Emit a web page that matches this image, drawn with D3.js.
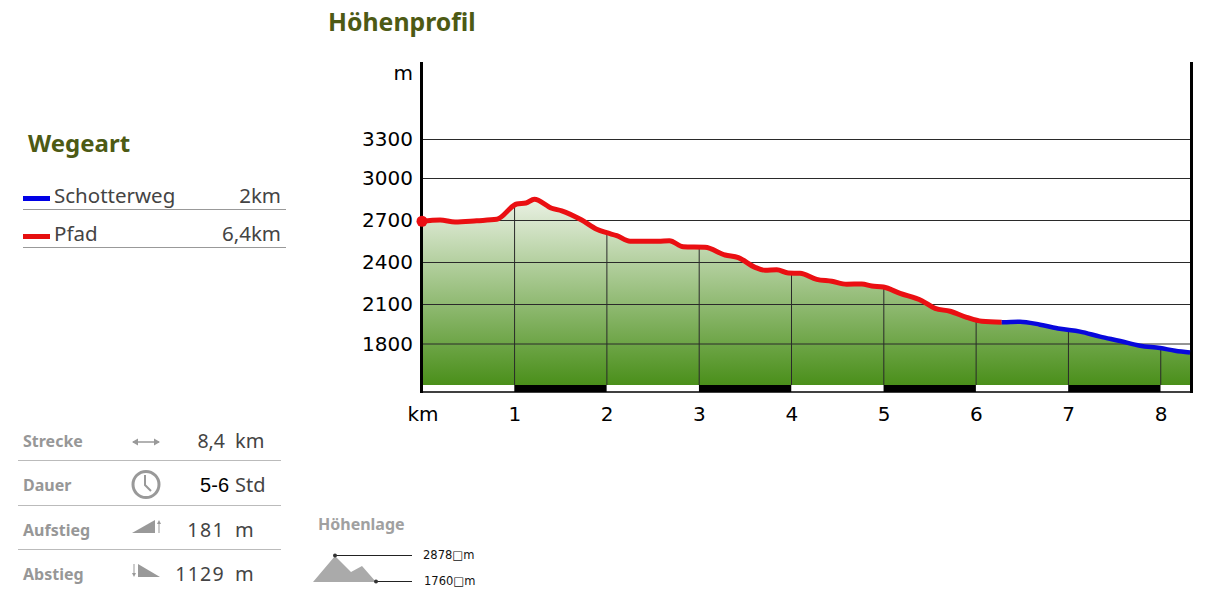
<!DOCTYPE html>
<html><head><meta charset="utf-8">
<script src="https://cdn.jsdelivr.net/npm/d3@7"></script>
<style>html,body{margin:0;padding:0;background:#fff}svg{display:block}text{font-family:"Noto Sans","Open Sans",sans-serif}</style>
</head><body><svg id="c" width="1206" height="602"></svg>
<script>
const pfadKm=[0,.195,.358,.593,.81,1.026,1.127,1.217,1.405,1.514,1.73,1.893,2,2.11,2.254,2.416,2.56,2.68,2.83,3.066,3.283,3.427,3.608,3.716,3.843,3.968,4.095,4.276,4.439,4.601,4.764,4.872,4.998,5.179,5.414,5.558,5.72,5.9,6.064,6.28];
const pfadM=[2691,2700,2686,2695,2705,2814,2821,2848,2784,2766,2700,2634,2609,2588,2548,2548,2548,2552,2509,2505,2450,2431,2362,2341,2345,2321,2319,2276,2262,2241,2243,2229,2221,2176,2124,2067,2045,1999,1969,1961];
const schotterKm=[6.28,6.479,6.696,6.912,7.129,7.346,7.563,7.779,7.996,8.159,8.32];
const schotterM=[1961,1966,1943,1912,1890,1852,1819,1784,1767,1748,1735];
const yTicks=[1800,2100,2400,2700,3000,3300];
const kmTicks=[1,2,3,4,5,6,7,8];
const wegNames=["Schotterweg","Pfad"],wegLengths=["2km","6,4km"],wegColors=["#0000e6","#e60f0f"];
const statNames=["Strecke","Dauer","Aufstieg","Abstieg"],statValues=["8,4","5-6","181","1129"],statUnits=["km","Std","m","m"];
const lageLabels=["2878\u25A1m","1760\u25A1m"];

const svg=d3.select("#c");
const x=d3.scaleLinear().domain([0,8]).range([422,1160.5]);
const y=d3.scaleLinear().domain([1500,1800,2100,2400,2700,3000,3300]).range([385,343.5,304,262,220,178,139]);
const endKm=schotterKm[schotterKm.length-1];
const all=pfadKm.map((k,i)=>[k,pfadM[i]]).concat(schotterKm.slice(1).map((k,i)=>[k,schotterM[i+1]]));
const grad=svg.append("defs").append("linearGradient").attr("id","g").attr("x1",0).attr("x2",0).attr("y1",0).attr("y2",1);
grad.append("stop").attr("offset","0%").attr("stop-color","#eaf1e4");
grad.append("stop").attr("offset","100%").attr("stop-color","#4a8f1a");
const curve=d3.curveMonotoneX;

// area
svg.append("path").datum(all).attr("fill","url(#g)")
 .attr("d",d3.area().curve(curve).x(d=>x(d[0])).y0(y(1500)).y1(d=>y(d[1])));
// horizontal grid
svg.append("g").selectAll("line").data(yTicks).join("line")
 .attr("x1",x(0)).attr("x2",x(endKm)).attr("y1",d=>y(d)+.5).attr("y2",d=>y(d)+.5)
 .attr("stroke","#2a2a2a").attr("stroke-width",1);
// vertical grid
const interp=d3.scaleLinear().domain(all.map(d=>d[0])).range(all.map(d=>d[1]));
svg.append("g").selectAll("line").data(kmTicks).join("line")
 .attr("x1",d=>x(d)+.25).attr("x2",d=>x(d)+.25).attr("y1",d=>y(interp(d))).attr("y2",y(1500))
 .attr("stroke","#2a2a2a").attr("stroke-width",1);
// km strip
svg.append("g").selectAll("rect").data([1,3,5,7]).join("rect")
 .attr("x",d=>x(d)).attr("width",d=>x(d+1)-x(d)).attr("y",385).attr("height",7).attr("fill","#000");
svg.append("line").attr("x1",x(0)).attr("x2",1190).attr("y1",392).attr("y2",392).attr("stroke","#000").attr("stroke-width",1.5);
// axes
svg.append("rect").attr("x",420).attr("y",62).attr("width",3).attr("height",331).attr("fill","#000");
svg.append("rect").attr("x",1190).attr("y",62).attr("width",3).attr("height",331).attr("fill","#000");
// profile lines
const ln=d3.line().curve(curve).x(d=>x(d[0])).y(d=>y(d[1]));
svg.append("path").datum(pfadKm.map((k,i)=>[k,pfadM[i]])).attr("d",ln).attr("fill","none").attr("stroke","#ea0f12").attr("stroke-width",5).attr("stroke-linejoin","round");
svg.append("path").datum(schotterKm.map((k,i)=>[k,schotterM[i]])).attr("d",ln).attr("fill","none").attr("stroke","#0808dc").attr("stroke-width",4.5).attr("stroke-linejoin","round");
svg.append("circle").attr("cx",x(0)).attr("cy",y(pfadM[0])).attr("r",5.5).attr("fill","#ea0f12");
// tick labels
const tick=(s)=>s.attr("font-size",20).attr("fill","#000").style("font-family","'DejaVu Sans'");
svg.append("g").selectAll("text").data(yTicks).join("text").attr("x",413).attr("y",d=>y(d)+7).attr("text-anchor","end").text(d=>d).call(tick);
svg.append("text").attr("x",413).attr("y",80).attr("text-anchor","end").text("m").call(tick);
svg.append("g").selectAll("text").data(kmTicks).join("text").attr("x",d=>x(d)+.5).attr("y",421).attr("text-anchor","middle").text(d=>d).call(tick);
svg.append("text").attr("x",423).attr("y",421).attr("text-anchor","middle").text("km").call(tick);
// titles
const olive="#4d5a14";
svg.append("text").attr("x",328).attr("y",31).attr("font-size",24.8).attr("font-weight",700).attr("fill",olive).text("Höhenprofil");
svg.append("text").attr("x",28).attr("y",152).attr("font-size",24).attr("font-weight",700).attr("fill",olive).text("Wegeart");
// legend
const leg=svg.append("g").selectAll("g").data(wegNames).join("g").attr("transform",(d,i)=>`translate(0,${i*38})`);
leg.append("rect").attr("x",23).attr("y",196).attr("width",27).attr("height",5).attr("fill",(d,i)=>wegColors[i]);
leg.append("text").attr("x",54).attr("y",203).attr("font-size",20.5).attr("fill","#444").text(d=>d);
leg.append("text").attr("x",281).attr("y",203).attr("text-anchor","end").attr("font-size",20.5).attr("fill","#444").text((d,i)=>wegLengths[i]);
leg.append("line").attr("x1",23).attr("x2",286).attr("y1",209.5).attr("y2",209.5).attr("stroke","#999");
// stats
const rowY=[448,492,537,581];
const valEnd=[225,229,225,225],spacing=[0,0,1.4,1.3];
const st=svg.append("g").selectAll("g").data(statNames).join("g");
st.append("text").attr("x",23).attr("y",(d,i)=>rowY[i]-1).attr("font-size",16).attr("font-weight",700).attr("fill","#979797").text(d=>d);
st.append("text").attr("x",(d,i)=>valEnd[i]).attr("y",(d,i)=>rowY[i]-.5).attr("text-anchor","end").attr("font-size",(d,i)=>i==1?20:19.5).attr("fill",(d,i)=>i==1?"#000":"#444")
  .attr("letter-spacing",(d,i)=>spacing[i])
  .style("font-family",(d,i)=>i==1?"'Liberation Sans'":null).text((d,i)=>statValues[i]);
st.append("text").attr("x",235).attr("y",(d,i)=>rowY[i]-.5).attr("font-size",20).attr("fill","#444").text((d,i)=>statUnits[i]);
svg.append("g").selectAll("line").data([460.5,505.5,549.5]).join("line").attr("x1",18).attr("x2",281).attr("y1",d=>d).attr("y2",d=>d).attr("stroke","#bbb");
// icons
const ic=svg.append("g").attr("fill","#999").attr("stroke","none");
ic.append("path").attr("d","M133 442h26").attr("stroke","#999").attr("stroke-width",1.5);
ic.append("path").attr("d","M132 442l6-3.5v7zM160 442l-6-3.5v7z");
ic.append("circle").attr("cx",146).attr("cy",484.5).attr("r",13).attr("fill","none").attr("stroke","#999").attr("stroke-width",3);
ic.append("path").attr("d","M145 475v10l6 6").attr("fill","none").attr("stroke","#999").attr("stroke-width",2);
ic.append("path").attr("d","M132 533l23-13v13z");
ic.append("path").attr("d","M159 533v-10").attr("stroke","#999").attr("stroke-width",1);
ic.append("path").attr("d","M157 524l2-4 2 4z");
ic.append("path").attr("d","M138 564l22 13h-22z");
ic.append("path").attr("d","M134 564v10").attr("stroke","#999").attr("stroke-width",1);
ic.append("path").attr("d","M132 573l2 4 2-4z");
// Höhenlage
svg.append("text").attr("x",318).attr("y",529.5).attr("font-size",16).attr("font-weight",700).attr("fill","#a0a0a0").text("Höhenlage");
svg.append("path").attr("d","M313 582L335 556L351 572L362 566L376 582Z").attr("fill","#aaa");
svg.append("g").selectAll("line").data([555.5,581.5]).join("line").attr("x1",(d,i)=>i?376:335).attr("x2",412).attr("y1",d=>d).attr("y2",d=>d).attr("stroke","#222");
svg.append("g").selectAll("circle").data([[335,555.5],[376,581.5]]).join("circle").attr("cx",d=>d[0]).attr("cy",d=>d[1]).attr("r",2).attr("fill","#333");
svg.append("g").selectAll("text").data(lageLabels).join("text").attr("x",(d,i)=>i?424:423).attr("y",(d,i)=>i?585:559).attr("font-size",11.5).attr("fill","#111").style("font-family","'DejaVu Sans'").text(d=>d);
</script></body></html>
